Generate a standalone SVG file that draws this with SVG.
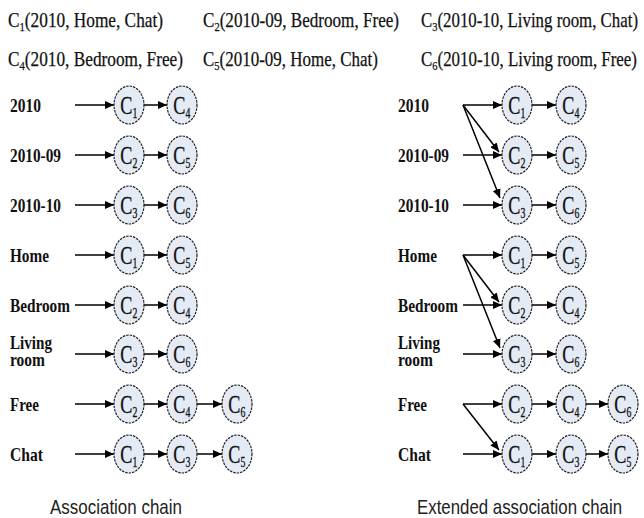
<svg xmlns="http://www.w3.org/2000/svg" width="644" height="518" viewBox="0 0 644 518">
<style>
.hdr{font-family:"Liberation Serif","Times New Roman",serif;font-size:21px;fill:#111;stroke:#111;stroke-width:0.25}
.hs{font-size:13px}
.lbl{font-family:"Liberation Serif","Times New Roman",serif;font-weight:bold;font-size:19px;fill:#111}
.cap{font-family:"Liberation Sans","Open Sans",sans-serif;font-size:21px;fill:#222}
.nd{fill:#e4ebf5;stroke:#222;stroke-width:1.2;stroke-dasharray:2.5 1}
.ct{font-family:"Liberation Serif","Times New Roman",serif;font-size:26px;fill:#111;stroke:#111;stroke-width:0.3}
.sub{font-size:14px}
.conn line{stroke:#000;stroke-width:1.5;marker-end:url(#ah)}
</style>
<defs>
<marker id="ah" markerWidth="9" markerHeight="8" refX="9" refY="4" orient="auto" markerUnits="userSpaceOnUse"><path d="M0,0 L9,4 L0,8 z" fill="#000"/></marker>
<g id="c1"><ellipse class="nd" rx="15" ry="19"/><text class="ct" transform="scale(0.7,1)" x="-12.4" y="8.5">C<tspan class="sub" dy="5">1</tspan></text></g>
<g id="c2"><ellipse class="nd" rx="15" ry="19"/><text class="ct" transform="scale(0.7,1)" x="-12.4" y="8.5">C<tspan class="sub" dy="5">2</tspan></text></g>
<g id="c3"><ellipse class="nd" rx="15" ry="19"/><text class="ct" transform="scale(0.7,1)" x="-12.4" y="8.5">C<tspan class="sub" dy="5">3</tspan></text></g>
<g id="c4"><ellipse class="nd" rx="15" ry="19"/><text class="ct" transform="scale(0.7,1)" x="-12.4" y="8.5">C<tspan class="sub" dy="5">4</tspan></text></g>
<g id="c5"><ellipse class="nd" rx="15" ry="19"/><text class="ct" transform="scale(0.7,1)" x="-12.4" y="8.5">C<tspan class="sub" dy="5">5</tspan></text></g>
<g id="c6"><ellipse class="nd" rx="15" ry="19"/><text class="ct" transform="scale(0.7,1)" x="-12.4" y="8.5">C<tspan class="sub" dy="5">6</tspan></text></g>
</defs>
<rect width="644" height="518" fill="#fff"/>

<g id="header">
<text class="hdr" x="8" y="27" textLength="155" lengthAdjust="spacingAndGlyphs">C<tspan class="hs" dy="4">1</tspan><tspan dy="-4">(2010, Home, Chat)</tspan></text>
<text class="hdr" x="203" y="27" textLength="196" lengthAdjust="spacingAndGlyphs">C<tspan class="hs" dy="4">2</tspan><tspan dy="-4">(2010-09, Bedroom, Free)</tspan></text>
<text class="hdr" x="421" y="27" textLength="217" lengthAdjust="spacingAndGlyphs">C<tspan class="hs" dy="4">3</tspan><tspan dy="-4">(2010-10, Living room, Chat)</tspan></text>
<text class="hdr" x="8" y="66" textLength="175" lengthAdjust="spacingAndGlyphs">C<tspan class="hs" dy="4">4</tspan><tspan dy="-4">(2010, Bedroom, Free)</tspan></text>
<text class="hdr" x="203" y="66" textLength="175" lengthAdjust="spacingAndGlyphs">C<tspan class="hs" dy="4">5</tspan><tspan dy="-4">(2010-09, Home, Chat)</tspan></text>
<text class="hdr" x="421" y="66" textLength="216" lengthAdjust="spacingAndGlyphs">C<tspan class="hs" dy="4">6</tspan><tspan dy="-4">(2010-10, Living room, Free)</tspan></text>
</g>

<g id="labels-left">
<text class="lbl" x="10" y="112" textLength="31" lengthAdjust="spacingAndGlyphs">2010</text>
<text class="lbl" x="10" y="162" textLength="51" lengthAdjust="spacingAndGlyphs">2010-09</text>
<text class="lbl" x="10" y="212" textLength="51" lengthAdjust="spacingAndGlyphs">2010-10</text>
<text class="lbl" x="10" y="262" textLength="39" lengthAdjust="spacingAndGlyphs">Home</text>
<text class="lbl" x="10" y="312" textLength="60" lengthAdjust="spacingAndGlyphs">Bedroom</text>
<text class="lbl" x="10" y="349" textLength="42" lengthAdjust="spacingAndGlyphs">Living</text>
<text class="lbl" x="10" y="366" textLength="35" lengthAdjust="spacingAndGlyphs">room</text>
<text class="lbl" x="10" y="411" textLength="29" lengthAdjust="spacingAndGlyphs">Free</text>
<text class="lbl" x="10" y="461" textLength="33" lengthAdjust="spacingAndGlyphs">Chat</text>
</g>
<g id="labels-right">
<text class="lbl" x="398" y="112" textLength="31" lengthAdjust="spacingAndGlyphs">2010</text>
<text class="lbl" x="398" y="162" textLength="51" lengthAdjust="spacingAndGlyphs">2010-09</text>
<text class="lbl" x="398" y="212" textLength="51" lengthAdjust="spacingAndGlyphs">2010-10</text>
<text class="lbl" x="398" y="262" textLength="39" lengthAdjust="spacingAndGlyphs">Home</text>
<text class="lbl" x="398" y="312" textLength="60" lengthAdjust="spacingAndGlyphs">Bedroom</text>
<text class="lbl" x="398" y="349" textLength="42" lengthAdjust="spacingAndGlyphs">Living</text>
<text class="lbl" x="398" y="366" textLength="35" lengthAdjust="spacingAndGlyphs">room</text>
<text class="lbl" x="398" y="411" textLength="29" lengthAdjust="spacingAndGlyphs">Free</text>
<text class="lbl" x="398" y="461" textLength="33" lengthAdjust="spacingAndGlyphs">Chat</text>
</g>

<g id="connectors" class="conn">
<line x1="75" y1="105" x2="114" y2="105"/><line x1="144" y1="105" x2="167" y2="105"/>
<line x1="75" y1="155" x2="114" y2="155"/><line x1="144" y1="155" x2="167" y2="155"/>
<line x1="75" y1="205" x2="114" y2="205"/><line x1="144" y1="205" x2="167" y2="205"/>
<line x1="75" y1="255" x2="114" y2="255"/><line x1="144" y1="255" x2="167" y2="255"/>
<line x1="75" y1="305" x2="114" y2="305"/><line x1="144" y1="305" x2="167" y2="305"/>
<line x1="75" y1="354" x2="114" y2="354"/><line x1="144" y1="354" x2="167" y2="354"/>
<line x1="75" y1="404" x2="114" y2="404"/><line x1="144" y1="404" x2="167" y2="404"/><line x1="197" y1="404" x2="222" y2="404"/>
<line x1="75" y1="454" x2="114" y2="454"/><line x1="144" y1="454" x2="167" y2="454"/><line x1="197" y1="454" x2="222" y2="454"/>
<line x1="463" y1="105" x2="502" y2="105"/><line x1="532" y1="105" x2="556" y2="105"/>
<line x1="463" y1="105" x2="499" y2="152"/><line x1="463" y1="105" x2="500" y2="198"/>
<line x1="463" y1="155" x2="502" y2="155"/><line x1="532" y1="155" x2="556" y2="155"/>
<line x1="463" y1="205" x2="502" y2="205"/><line x1="532" y1="205" x2="556" y2="205"/>
<line x1="463" y1="255" x2="502" y2="255"/><line x1="532" y1="255" x2="556" y2="255"/>
<line x1="463" y1="255" x2="499" y2="302"/><line x1="463" y1="255" x2="500" y2="348"/>
<line x1="463" y1="305" x2="502" y2="305"/><line x1="532" y1="305" x2="556" y2="305"/>
<line x1="463" y1="354" x2="502" y2="354"/><line x1="532" y1="354" x2="556" y2="354"/>
<line x1="463" y1="404" x2="502" y2="404"/><line x1="532" y1="404" x2="556" y2="404"/><line x1="586" y1="404" x2="608" y2="404"/>
<line x1="463" y1="404" x2="499" y2="450"/>
<line x1="463" y1="454" x2="502" y2="454"/><line x1="532" y1="454" x2="556" y2="454"/><line x1="586" y1="454" x2="608" y2="454"/>
</g>

<g id="nodes-left">
<use id="L-2010-c1" href="#c1" x="129" y="105"/><use id="L-2010-c4" href="#c4" x="182" y="105"/>
<use id="L-0909-c2" href="#c2" x="129" y="155"/><use id="L-0909-c5" href="#c5" x="182" y="155"/>
<use id="L-1010-c3" href="#c3" x="129" y="205"/><use id="L-1010-c6" href="#c6" x="182" y="205"/>
<use id="L-home-c1" href="#c1" x="129" y="255"/><use id="L-home-c5" href="#c5" x="182" y="255"/>
<use id="L-bed-c2" href="#c2" x="129" y="305"/><use id="L-bed-c4" href="#c4" x="182" y="305"/>
<use id="L-liv-c3" href="#c3" x="129" y="354"/><use id="L-liv-c6" href="#c6" x="182" y="354"/>
<use id="L-free-c2" href="#c2" x="129" y="404"/><use id="L-free-c4" href="#c4" x="182" y="404"/><use id="L-free-c6" href="#c6" x="237" y="404"/>
<use id="L-chat-c1" href="#c1" x="129" y="454"/><use id="L-chat-c3" href="#c3" x="182" y="454"/><use id="L-chat-c5" href="#c5" x="237" y="454"/>
</g>
<g id="nodes-right">
<use id="R-2010-c1" href="#c1" x="517" y="105"/><use id="R-2010-c4" href="#c4" x="571" y="105"/>
<use id="R-0909-c2" href="#c2" x="517" y="155"/><use id="R-0909-c5" href="#c5" x="571" y="155"/>
<use id="R-1010-c3" href="#c3" x="517" y="205"/><use id="R-1010-c6" href="#c6" x="571" y="205"/>
<use id="R-home-c1" href="#c1" x="517" y="255"/><use id="R-home-c5" href="#c5" x="571" y="255"/>
<use id="R-bed-c2" href="#c2" x="517" y="305"/><use id="R-bed-c4" href="#c4" x="571" y="305"/>
<use id="R-liv-c3" href="#c3" x="517" y="354"/><use id="R-liv-c6" href="#c6" x="571" y="354"/>
<use id="R-free-c2" href="#c2" x="517" y="404"/><use id="R-free-c4" href="#c4" x="571" y="404"/><use id="R-free-c6" href="#c6" x="623" y="404"/>
<use id="R-chat-c1" href="#c1" x="517" y="454"/><use id="R-chat-c3" href="#c3" x="571" y="454"/><use id="R-chat-c5" href="#c5" x="623" y="454"/>
</g>

<g id="captions">
<text class="cap" x="50" y="514" textLength="132" lengthAdjust="spacingAndGlyphs">Association chain</text>
<text class="cap" x="417" y="514" textLength="205" lengthAdjust="spacingAndGlyphs">Extended association chain</text>
</g>
</svg>
